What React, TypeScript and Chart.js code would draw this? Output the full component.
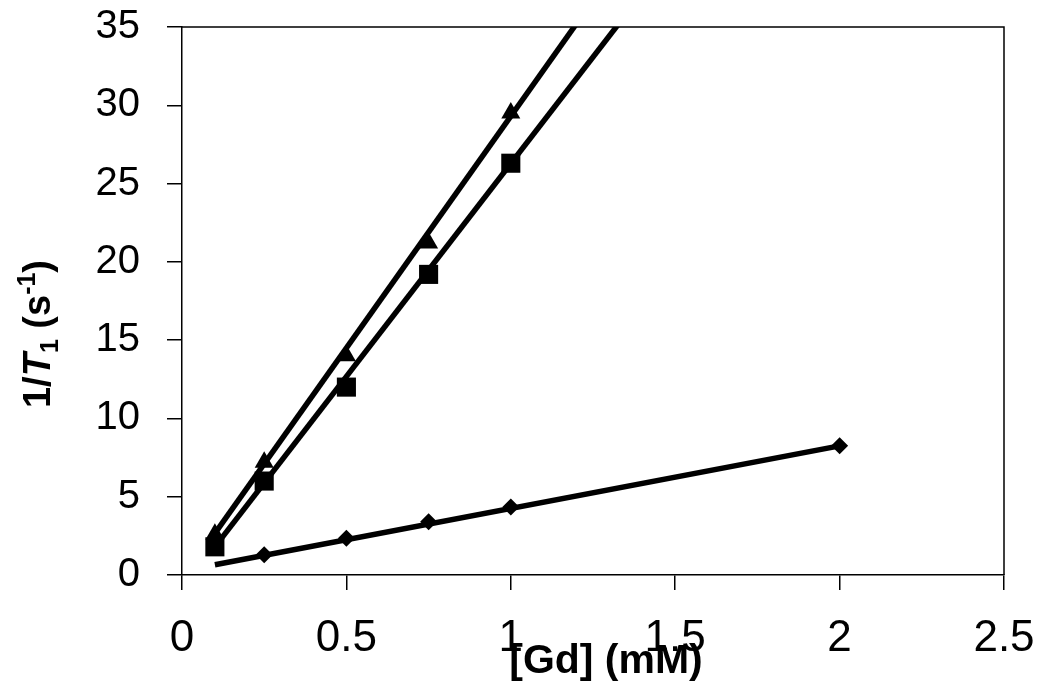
import React, { useEffect, useRef } from "react";
import { Chart, registerables } from "chart.js";

Chart.register(...registerables);

// ---- data ----
const xTickValues = [0, 0.5, 1, 1.5, 2, 2.5];
const yTickValues = [0, 5, 10, 15, 20, 25, 30, 35];

const diamondX = [0.25, 0.5, 0.75, 1, 2];
const diamondY = [1.3, 2.35, 3.4, 4.35, 8.25];

const squareX = [0.1, 0.25, 0.5, 0.75, 1];
const squareY = [1.8, 6.0, 12.0, 19.2, 26.3];

const triangleX = [0.1, 0.25, 0.5, 0.75, 1];
const triangleY = [2.6, 7.2, 14.0, 21.2, 29.5];

// linear fits: diamonds, squares, triangles
const fitSlope = [4.0, 27.2, 29.6];
const fitIntercept = [0.25, -0.92, -0.3];
const fitXRange = [0.1, 2];

const xTitle = "[Gd] (mM)";

const FONT = "'Liberation Sans', Arial, sans-serif";

const toPoints = (xs: number[], ys: number[]) => xs.map((x, i) => ({ x, y: ys[i] }));
const fitLine = (i: number) =>
  fitXRange.map((x) => ({ x, y: fitSlope[i] * x + fitIntercept[i] }));

const titlesPlugin = {
  id: "titlesAndFrame",
  afterDraw(chart: any) {
    const ctx = chart.ctx as CanvasRenderingContext2D;
    const area = chart.chartArea;
    ctx.save();
    // frame top + right
    ctx.strokeStyle = "#000";
    ctx.lineWidth = 1.5;
    ctx.beginPath();
    ctx.moveTo(area.left, area.top);
    ctx.lineTo(area.right, area.top);
    ctx.lineTo(area.right, area.bottom);
    ctx.stroke();

    // x title
    ctx.fillStyle = "#000";
    ctx.font = `bold 41px ${FONT}`;
    ctx.textAlign = "center";
    ctx.textBaseline = "alphabetic";
    ctx.fillText(xTitle, 606, 673);

    // y title: 1/T1 (s-1)
    const segs = [
      { t: "1/", f: `bold 38px ${FONT}`, dy: 0 },
      { t: "T", f: `italic bold 38px ${FONT}`, dy: 0 },
      { t: "1", f: `bold 25px ${FONT}`, dy: 8 },
      { t: " (s", f: `bold 38px ${FONT}`, dy: 0 },
      { t: "-1", f: `bold 25px ${FONT}`, dy: -15 },
      { t: ")", f: `bold 38px ${FONT}`, dy: 0 },
    ];
    let total = 0;
    const widths = segs.map((s) => {
      ctx.font = s.f;
      const w = ctx.measureText(s.t).width;
      total += w;
      return w;
    });
    ctx.translate(50, 334);
    ctx.rotate(-Math.PI / 2);
    ctx.textAlign = "left";
    let lx = -total / 2;
    segs.forEach((s, i) => {
      ctx.font = s.f;
      ctx.fillText(s.t, lx, s.dy);
      lx += widths[i];
    });
    ctx.restore();
  },
};

export default function App() {
  const ref = useRef<HTMLCanvasElement | null>(null);

  useEffect(() => {
    document.body.style.margin = "0";
    const canvas = ref.current;
    if (!canvas) return;
    const chart = new Chart(canvas, {
      type: "scatter",
      data: {
        datasets: [
          {
            label: "diamond",
            data: toPoints(diamondX, diamondY),
            pointStyle: "rectRot",
            pointRadius: 8.5,
            backgroundColor: "#000",
            borderColor: "#000",
            borderWidth: 0,
            showLine: false,
            order: 0,
          },
          {
            label: "square",
            data: toPoints(squareX, squareY),
            pointStyle: "rect",
            pointRadius: 13.5,
            backgroundColor: "#000",
            borderColor: "#000",
            borderWidth: 0,
            showLine: false,
            order: 0,
          },
          {
            label: "triangle",
            data: toPoints(triangleX, triangleY),
            pointStyle: "triangle",
            pointRadius: 11,
            backgroundColor: "#000",
            borderColor: "#000",
            borderWidth: 0,
            showLine: false,
            order: 0,
          },
          ...[0, 1, 2].map((i) => ({
            label: "fit" + i,
            data: fitLine(i),
            showLine: true,
            pointRadius: 0,
            borderColor: "#000",
            backgroundColor: "#000",
            borderWidth: 5.5,
            clip: 0,
            order: 1,
          })),
        ],
      },
      options: {
        animation: false,
        responsive: false,
        devicePixelRatio: 1,
        layout: { padding: { top: 27, right: 46, left: 0, bottom: 0 } },
        plugins: { legend: { display: false }, tooltip: { enabled: false } },
        scales: {
          x: {
            type: "linear",
            min: 0,
            max: 2.5,
            afterBuildTicks: (scale: any) => {
              scale.ticks = xTickValues.map((v) => ({ value: v }));
            },
            ticks: {
              color: "#000",
              font: { family: FONT, size: 44 },
              padding: 22,
              maxRotation: 0,
              callback: (v: any) => String(v),
            },
            grid: {
              display: true,
              drawOnChartArea: false,
              drawTicks: true,
              tickLength: 15,
              color: "#000",
              lineWidth: 1.5,
            },
            border: { display: true, color: "#000", width: 1.5 },
            afterFit: (scale: any) => {
              scale.height = 121;
              scale.paddingLeft = 0;
              scale.paddingRight = 0;
            },
          },
          y: {
            type: "linear",
            min: 0,
            max: 35,
            afterBuildTicks: (scale: any) => {
              scale.ticks = yTickValues.map((v) => ({ value: v }));
            },
            ticks: {
              color: "#000",
              font: { family: FONT, size: 40 },
              padding: 27,
              callback: (v: any) => String(v),
            },
            grid: {
              display: true,
              drawOnChartArea: false,
              drawTicks: true,
              tickLength: 15,
              color: "#000",
              lineWidth: 1.5,
            },
            border: { display: true, color: "#000", width: 1.5 },
            afterFit: (scale: any) => {
              scale.width = 182;
              scale.paddingTop = 0;
              scale.paddingBottom = 0;
            },
          },
        },
      },
      plugins: [titlesPlugin],
    } as any);
    return () => chart.destroy();
  }, []);

  return (
    <div style={{ width: 1050, height: 696, background: "#fff" }}>
      <canvas ref={ref} width={1050} height={696} />
    </div>
  );
}
